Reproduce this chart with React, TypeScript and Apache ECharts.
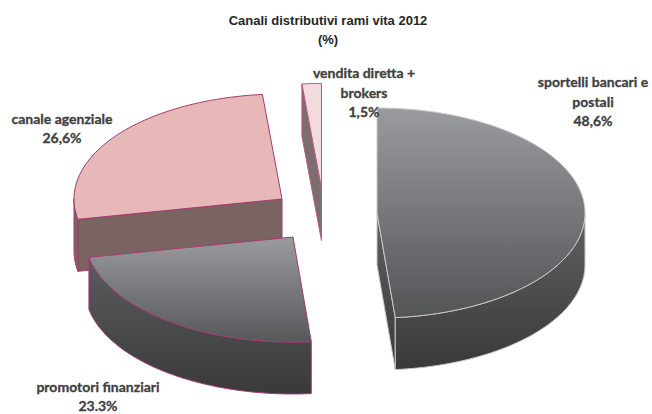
import React, { useEffect, useRef } from "react";
import * as echarts from "echarts";

const categories = ["sportelli bancari e\npostali", "promotori finanziari", "canale agenziale", "vendita diretta +\nbrokers"];
const values = [48.6, 23.3, 26.6, 1.5];
const valueLabels = ["48,6%", "23.3%", "26,6%", "1,5%"];
const titleText = "Canali distributivi rami vita 2012\n(%)";

const total = values.reduce((a, b) => a + b, 0);
const RX = 208, RY = 105, DEPTH = 52;
const centers = [[377, 213], [293, 237], [282, 199], [321.5, 188.5]];
const labelPos = [[593, 101], [98, 396], [62, 128], [364, 92]];
const order = [3, 1, 0, 2]; // z2 rank keeps the back slices behind
const grad = (a: string, b: string) => new echarts.graphic.LinearGradient(0, 0, 0, 1, [{ offset: 0, color: a }, { offset: 1, color: b }]);
const looks = [
  { top: () => grad("#9a9b9e", "#535456"), side: () => grad("#616163", "#39393a"), stroke: "#c9c9cb" },
  { top: () => grad("#9a9b9e", "#57585a"), side: () => grad("#5b5c5e", "#3a3a3a"), stroke: "#a63a72" },
  { top: () => "#e6b8b8", side: () => "#7a6462", stroke: "#a63a72" },
  { top: () => "#f2dbdb", side: () => "#7b6e6c", stroke: "#b8558a" },
];

const pt = (c: number[], deg: number, dy = 0) => {
  const r = (deg * Math.PI) / 180;
  return [c[0] + RX * Math.sin(r), c[1] - RY * Math.cos(r) + dy];
};
const arc = (c: number[], a: number, b: number, dy = 0) => {
  const out: number[][] = [];
  const n = Math.max(2, Math.ceil(Math.abs(b - a) / 1.5));
  for (let i = 0; i <= n; i++) out.push(pt(c, a + ((b - a) * i) / n, dy));
  return out;
};

function renderItem(_: any, api: any) {
  const i = api.value(0);
  const start = (values.slice(0, i).reduce((x, y) => x + y, 0) / total) * 360;
  const end = start + (api.value(1) / total) * 360;
  const c = centers[i];
  const look = looks[i];
  const z = order[i] * 10;
  const children: any[] = [];
  const sideStyle = { fill: look.side(), stroke: look.stroke, lineWidth: 1 };
  const face = (deg: number) => {
    const p = pt(c, deg);
    children.push({
      type: "polygon", z2: z,
      shape: { points: [c, p, [p[0], p[1] + DEPTH], [c[0], c[1] + DEPTH]] },
      style: sideStyle,
    });
  };
  if (Math.sin((start * Math.PI) / 180) < -1e-6) face(start);
  if (Math.sin((end * Math.PI) / 180) > 1e-6) face(end);
  const a = Math.max(start, 90), b = Math.min(end, 270);
  if (b > a) {
    children.push({
      type: "polygon", z2: z + 1,
      shape: { points: [...arc(c, a, b), ...arc(c, b, a, DEPTH)] },
      style: sideStyle,
    });
  }
  children.push({
    type: "polygon", z2: z + 2,
    shape: { points: [c, ...arc(c, start, end)] },
    style: { fill: look.top(), stroke: look.stroke, lineWidth: 1 },
  });
  children.push({
    type: "text", z2: 100,
    style: {
      text: categories[i] + "\n" + valueLabels[i],
      x: labelPos[i][0], y: labelPos[i][1],
      align: "center", verticalAlign: "middle",
      fontFamily: "Lato", fontWeight: "bold", fontSize: 14, lineHeight: 19.5,
      fill: "#404040", stroke: "#404040", lineWidth: 0.3,
    },
  });
  return { type: "group", children };
}

export default function App() {
  const ref = useRef<HTMLDivElement>(null);
  useEffect(() => {
    document.body.style.margin = "0";
    const chart = echarts.init(ref.current!, null, { renderer: "svg" });
    chart.setOption({
      animation: false,
      backgroundColor: "#ffffff",
      title: {
        text: titleText, left: 323, top: 6, textAlign: "center",
        textStyle: { fontFamily: "Liberation Sans", fontWeight: "bold", fontSize: 13, lineHeight: 19, color: "#262626" },
      },
      series: [{
        type: "custom", coordinateSystem: "none", silent: true,
        renderItem,
        data: values.map((v, i) => [i, v]),
      }],
    });
    return () => chart.dispose();
  }, []);
  return <div ref={ref} style={{ width: 652, height: 414 }} />;
}
